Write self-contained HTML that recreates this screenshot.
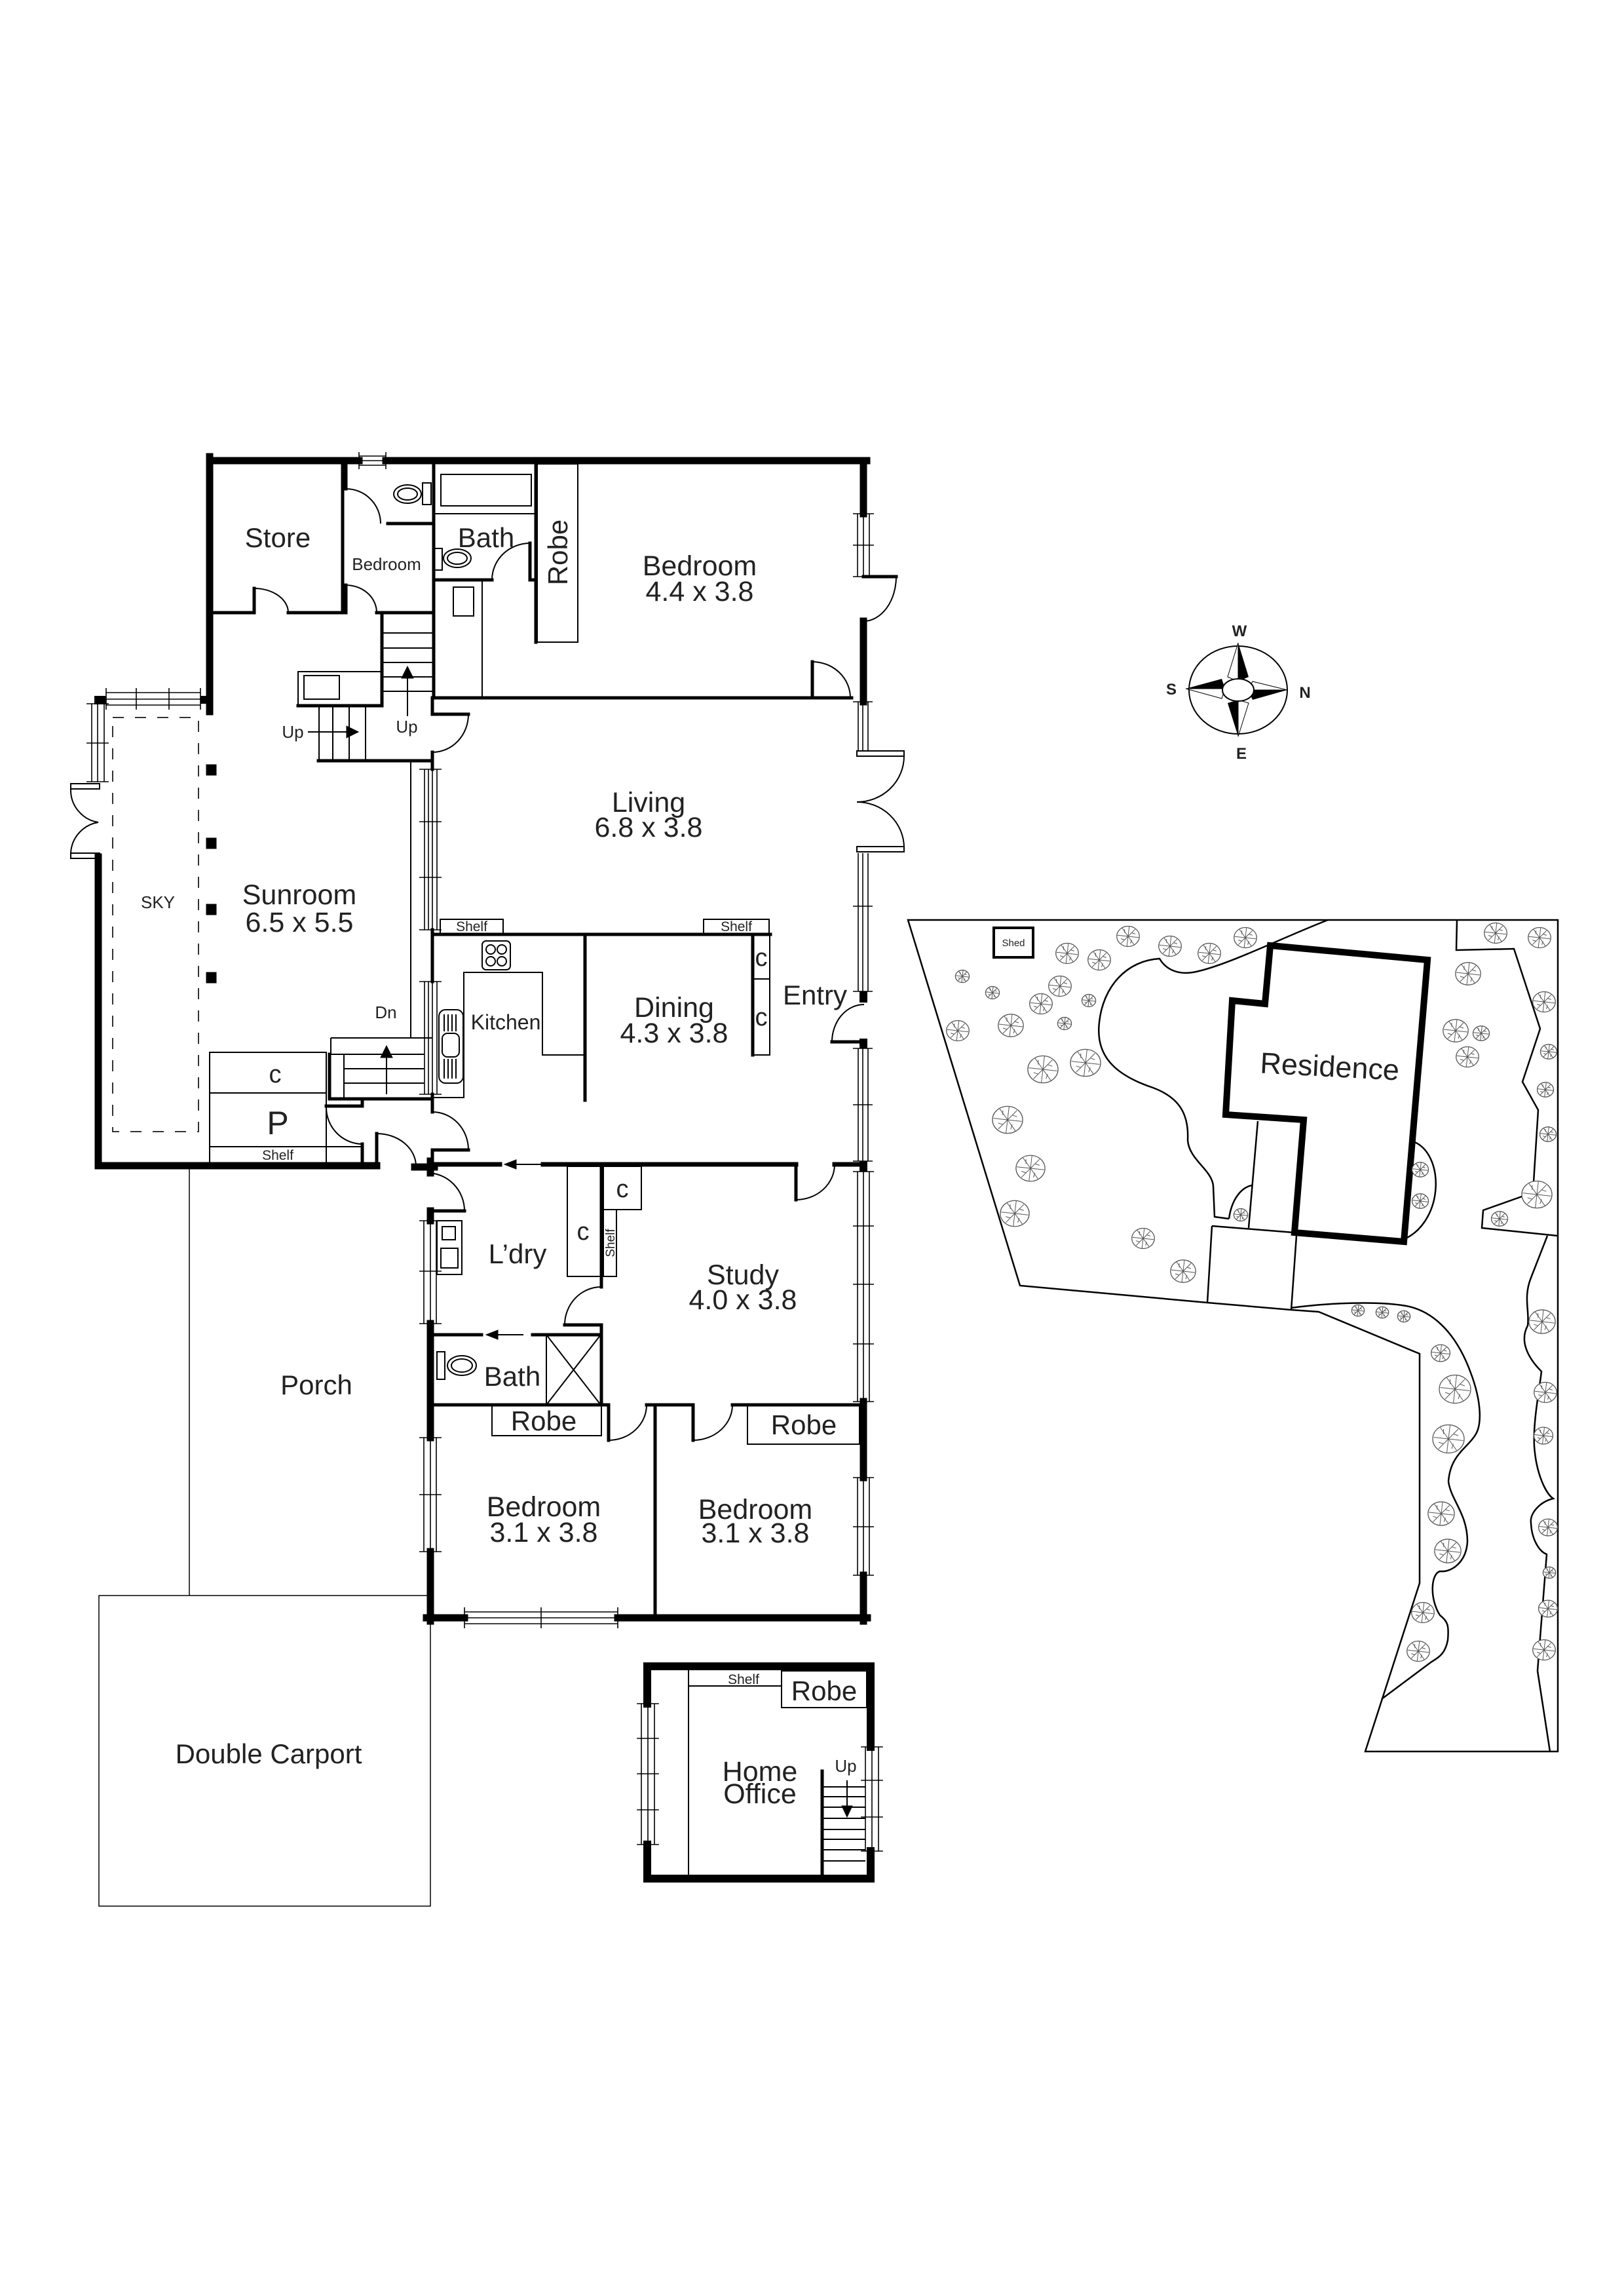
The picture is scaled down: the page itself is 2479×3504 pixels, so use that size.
<!DOCTYPE html>
<html><head><meta charset="utf-8"><style>
html,body{margin:0;padding:0;background:#fff}
svg{display:block}
text{font-family:"Liberation Sans",Arial,sans-serif;fill:#222}
</style></head><body>
<svg width="2479" height="3504" viewBox="0 0 2479 3504" xmlns="http://www.w3.org/2000/svg">
<defs>
<symbol id="t" viewBox="-10 -10 20 20" overflow="visible">
<ellipse cx="0" cy="0" rx="9.6" ry="8.6" fill="#fff" stroke="#555" stroke-width="1.3" vector-effect="non-scaling-stroke"/>
<path d="M0 0L9 1M0 0L6 -6M0 0L1 -8.5M0 0L-5 -7M0 0L-9 -1M0 0L-6 6M0 0L-1 8.5M0 0L5 7M3 -3L6 -2M-3 3L-6 2M-3 -3L-3 -6M3 3L2 6" stroke="#555" stroke-width="1" fill="none" vector-effect="non-scaling-stroke"/>
</symbol>
</defs>
<rect width="2479" height="3504" fill="#fff"/>

<g fill="none" stroke="#000" stroke-linecap="square">
<g stroke-width="11">
<path d="M320,703 H548 M589,703 H1323"/>
<path d="M1318,703 V784 M1318,948 V1071"/>
<path d="M320,697 V1086"/>
<path d="M150,1308 V1779 H575"/>
<path d="M633,1781 H663"/>
<path d="M657,1772 V1790 M657,1848 V1863 M657,2020 V2194 M657,2368 V2474 M651,2469 H709 M943,2469 H1324 M1318,2139 V2255 M1318,2404 V2474"/>
</g>
<rect x="306" y="1062" width="17" height="12" fill="#000" stroke="none"/>
<rect x="144" y="1062" width="18" height="13" fill="#000" stroke="none"/>
<rect x="1312" y="1513" width="12" height="17" fill="#000" stroke="none"/>
<rect x="1312" y="1585" width="12" height="15" fill="#000" stroke="none"/>
<rect x="1312" y="1772" width="12" height="16" fill="#000" stroke="none"/>
<path d="M660,1777 H763 M829,1777 H1215 M1274,1777 H1318" stroke-width="7"/>

<g stroke-width="5">
<path d="M523,703 V935 M320,935 H388 V898 M440,935 H528 V893 M575,935 H660"/>
<path d="M528,703 V746 M592,799 H662"/>
<path d="M662,703 V1065"/>
<path d="M818,708 V980"/>
<path d="M809,829 V885 H818 M662,885 H751"/>
<path d="M662,1065 H1240 V1010"/>
<path d="M1318,880 H1368"/>
<path d="M583,935 V1077 M455,1077 H583"/>
<path d="M660,1065 V1090 H715 M660,1148 V1174 M660,1419 V1498 M660,1670 V1697"/>
<path d="M660,1426 H1176 M893,1426 V1679"/>
<path d="M486,1161 H660"/>
<path d="M503,1609 V1677 H660"/>
<path d="M498,1688 H553 V1677 M553,1746 V1779 M575,1730 V1779"/>
<path d="M715,1755 H660 V1779"/>
<path d="M657,1848 H709"/>
<path d="M918,1777 V1964 M862,2022 H918 V2144"/>
<path d="M657,2037 H735 M813,2037 H918"/>
<path d="M657,2144 H929 V2198 M987,2144 H1058 V2198 M1118,2144 H1318"/>
<path d="M1000,2144 V2469"/>
<path d="M1215,1777 V1831"/>
<path d="M1240,1065 H1300"/>
<path d="M1270,1590 H1318"/>
<path d="M1149,1426 V1610"/>
</g>

<g stroke-width="2" stroke-linecap="butt">
<rect x="673" y="724" width="138" height="48"/>
<path d="M662,784 H818"/>
<rect x="820" y="708" width="62" height="272"/>
<rect x="692" y="896" width="31" height="44"/>
<path d="M736,885 V1065"/>
<rect x="663" y="837" width="12" height="33"/>
<ellipse cx="698" cy="852" rx="21" ry="14"/><ellipse cx="698" cy="852" rx="15" ry="9"/>
<rect x="645" y="737" width="13" height="33"/>
<ellipse cx="622" cy="754" rx="21" ry="14"/><ellipse cx="622" cy="754" rx="15" ry="9"/>
<path d="M388,898 A52,37 0 0 1 440,935"/>
<path d="M528,893 A47,42 0 0 1 575,935"/>
<path d="M528,746 A53,53 0 0 1 581,799"/>
<path d="M809,829 A58,56 0 0 0 751,885"/>
<path d="M1240,1010 A58,55 0 0 1 1298,1065"/>
<path d="M1368,880 A50,68 0 0 1 1318,948"/>
<path d="M715,1090 A55,58 0 0 1 660,1148"/>
<path d="M660,1697 A55,58 0 0 1 715,1755"/>
<path d="M498,1690 A56,56 0 0 0 553,1746"/>
<path d="M575,1730 A60,50 0 0 1 635,1780"/>
<path d="M652,1790 A57,58 0 0 1 709,1848"/>
<path d="M918,1964 A56,58 0 0 0 862,2022"/>
<path d="M929,2198 A58,54 0 0 0 987,2144"/>
<path d="M1058,2198 A60,54 0 0 0 1118,2144"/>
<path d="M1215,1831 A59,54 0 0 0 1274,1777"/>
<path d="M1270,1590 A49,57 0 0 1 1319,1533"/>
<rect x="1308" y="1146" width="72" height="8"/>
<rect x="1308" y="1292" width="72" height="8"/>
<path d="M1380,1154 A72,70 0 0 1 1308,1224 A72,70 0 0 1 1380,1292"/>
<rect x="108" y="1196" width="44" height="8"/>
<rect x="108" y="1302" width="44" height="8"/>
<path d="M108,1204 A50,50 0 0 0 150,1255 A50,50 0 0 0 108,1302"/>
<path d="M583,966 H660 M583,989 H660 M583,1011 H660 M583,1033 H660 M583,1055 H660"/>
<rect x="455" y="1025" width="128" height="52"/>
<rect x="464" y="1031" width="54" height="36"/>
<path d="M487,1077 V1161 M508,1077 V1161 M533,1077 V1161 M558,1077 V1161"/>
<path d="M622,1093 V1030 M470,1117 H530"/>
<path d="M627,1161 V1584"/>
<path d="M505,1584 H660 M505,1584 V1609 H647 M525,1609 V1677 M525,1631 H647 M525,1653 H647 M590,1670 V1600"/>
<rect x="320" y="1606" width="178" height="173"/>
<path d="M320,1668 H498 M320,1750 H553"/>
<rect x="672" y="1403" width="96" height="22"/>
<rect x="1074" y="1403" width="100" height="22"/>
<rect x="736" y="1436" width="43" height="44" rx="6"/>
<circle cx="749" cy="1449" r="7"/><circle cx="766" cy="1449" r="7"/><circle cx="749" cy="1467" r="7"/><circle cx="766" cy="1467" r="7"/>
<path d="M660,1675 H708 V1484 H828 V1610 H893"/>
<rect x="670" y="1541" width="37" height="112" rx="10"/>
<rect x="675" y="1577" width="26" height="36" rx="8"/>
<path d="M678,1548 V1574 M684,1548 V1574 M690,1548 V1574 M696,1548 V1574 M678,1616 V1646 M684,1616 V1646 M690,1616 V1646 M696,1616 V1646"/>
<rect x="1149" y="1426" width="26" height="68"/>
<rect x="1149" y="1494" width="26" height="116"/>
<rect x="667" y="1863" width="38" height="82"/>
<rect x="675" y="1872" width="20" height="20"/><rect x="673" y="1905" width="26" height="30"/>
<rect x="866" y="1780" width="51" height="168"/>
<rect x="921" y="1780" width="58" height="66"/>
<rect x="921" y="1846" width="20" height="102"/>
<rect x="834" y="2037" width="83" height="107"/>
<path d="M834,2037 L917,2144 M917,2037 L834,2144"/>
<rect x="667" y="2063" width="12" height="42"/>
<ellipse cx="705" cy="2084" rx="22" ry="15"/><ellipse cx="705" cy="2084" rx="16" ry="10"/>
<rect x="751" y="2144" width="167" height="47"/>
<rect x="1141" y="2144" width="171" height="60"/>
<path d="M289,1779 V2435" stroke-width="1.5"/>
<rect x="151" y="2435" width="506" height="474" stroke-width="1.5"/>
<rect x="172" y="1095" width="131" height="632" stroke="#333" stroke-dasharray="17,17"/>
</g>

<g stroke-width="1.6" stroke-linecap="butt">
<path d="M548,696 H589 M548,703 H589 M548,710 H589 M548,690 V716 M589,690 V716"/>
<path d="M1309,784 V880 M1318,784 V880 M1327,784 V880 M1302,784 H1334 M1302,880 H1334 M1302,832 H1334"/>
<path d="M162,1057 H306 M162,1067 H306 M162,1076 H306 M162,1050 V1083 M208,1050 V1083 M258,1050 V1083 M306,1050 V1083"/>
<path d="M140,1074 V1193 M149,1074 V1193 M159,1074 V1193 M132,1074 H166 M132,1134 H166 M132,1193 H166"/>
<path d="M1310,1071 V1146 M1317,1071 V1146 M1325,1071 V1146 M1302,1071 H1332"/>
<path d="M1310,1302 V1513 M1317,1302 V1513 M1325,1302 V1513 M1302,1383 H1332 M1302,1513 H1332"/>
<path d="M1310,1600 V1772 M1317,1600 V1772 M1325,1600 V1772 M1302,1600 H1332 M1302,1686 H1332 M1302,1772 H1332"/>
<path d="M1309,1788 V2139 M1318,1788 V2139 M1327,1788 V2139 M1302,1788 H1334 M1302,1871 H1334 M1302,1960 H1334 M1302,2051 H1334 M1302,2139 H1334"/>
<path d="M1309,2255 V2404 M1318,2255 V2404 M1327,2255 V2404 M1302,2255 H1334 M1302,2330 H1334 M1302,2404 H1334"/>
<path d="M647,1863 V2020 M657,1863 V2020 M666,1863 V2020 M640,1863 H674 M640,1940 H674 M640,2020 H674"/>
<path d="M647,2194 V2368 M657,2194 V2368 M666,2194 V2368 M640,2194 H674 M640,2281 H674 M640,2368 H674"/>
<path d="M709,2460 H943 M709,2469 H943 M709,2478 H943 M709,2453 V2485 M826,2453 V2485 M943,2453 V2485"/>
<path d="M648,1174 V1419 M654,1174 V1419 M660,1174 V1419 M667,1174 V1419 M640,1174 H674 M640,1254 H674 M640,1339 H674 M640,1419 H674"/>
<path d="M648,1498 V1670 M654,1498 V1670 M660,1498 V1670 M667,1498 V1670 M640,1498 H674 M640,1670 H674"/>
</g>

<g fill="#000">
<rect x="315" y="1167" width="15" height="16"/><rect x="315" y="1279" width="15" height="16"/>
<rect x="315" y="1380" width="15" height="16"/><rect x="315" y="1484" width="15" height="16"/>
</g>

<g fill="#000">
<polygon points="622,1017 613,1035 631,1035"/>
<polygon points="547,1117 529,1108 529,1126"/>
<polygon points="590,1596 581,1614 599,1614"/>
<polygon points="770,1777 788,1770 788,1784"/>
<polygon points="742,2037 760,2030 760,2044"/>
<polygon points="1293,2773 1285,2756 1301,2756"/>
</g>
<path d="M788,1777 H826 M760,2037 H798 M1293,2718 V2758" stroke="#000" stroke-width="2"/>

<g fill="none" stroke="#000">
<path d="M988,2600 V2543 H1329 V2666 M1329,2825 V2867 H988 V2815" stroke-width="12"/>
<g stroke-width="2">
<path d="M1051,2550 V2861 M1051,2573 H1193"/>
<rect x="1193" y="2550" width="130" height="56"/>
<path d="M1257,2727 H1320 M1257,2742 H1320 M1257,2758 H1320 M1257,2775 H1320 M1257,2792 H1320 M1257,2807 H1320 M1257,2823 H1320 M1257,2840 H1320"/>
</g>
<path d="M1255,2703 V2861" stroke-width="5"/>
<g stroke-width="1.6">
<path d="M979,2600 V2815 M989,2600 V2815 M999,2600 V2815 M973,2600 H1005 M973,2653 H1005 M973,2707 H1005 M973,2762 H1005 M973,2815 H1005"/>
<path d="M1321,2666 V2825 M1331,2666 V2825 M1341,2666 V2825 M1315,2666 H1347 M1315,2717 H1347 M1315,2773 H1347 M1315,2825 H1347"/>
</g>
</g>
</g>

<g text-anchor="middle">
<text x="424" y="835" font-size="42">Store</text>
<text x="590" y="870" font-size="26">Bedroom</text>
<text x="742" y="835" font-size="42">Bath</text>
<text transform="translate(866,843) rotate(-90)" font-size="42">Robe</text>
<text x="1068" y="878" font-size="43">Bedroom</text>
<text x="1068" y="917" font-size="43">4.4 x 3.8</text>
<text x="447" y="1126" font-size="26">Up</text>
<text x="621" y="1118" font-size="26">Up</text>
<text x="241" y="1386" font-size="26">SKY</text>
<text x="457" y="1380" font-size="43">Sunroom</text>
<text x="457" y="1422" font-size="43">6.5 x 5.5</text>
<text x="990" y="1239" font-size="43">Living</text>
<text x="990" y="1277" font-size="43">6.8 x 3.8</text>
<text x="720" y="1421" font-size="21">Shelf</text>
<text x="1124" y="1421" font-size="21">Shelf</text>
<text x="1162" y="1474" font-size="38">c</text>
<text x="1162" y="1565" font-size="38">c</text>
<text x="1244" y="1533" font-size="42">Entry</text>
<text x="1029" y="1552" font-size="43">Dining</text>
<text x="1029" y="1591" font-size="43">4.3 x 3.8</text>
<text x="772" y="1571" font-size="32">Kitchen</text>
<text x="589" y="1554" font-size="26">Dn</text>
<text x="420" y="1652" font-size="38">c</text>
<text x="424" y="1731" font-size="50">P</text>
<text x="424" y="1770" font-size="21">Shelf</text>
<text x="790" y="1928" font-size="42">L’dry</text>
<text x="890" y="1892" font-size="38">c</text>
<text x="950" y="1827" font-size="38">c</text>
<text transform="translate(938,1897) rotate(-90)" font-size="19">Shelf</text>
<text x="1134" y="1960" font-size="43">Study</text>
<text x="1134" y="1998" font-size="43">4.0 x 3.8</text>
<text x="782" y="2115" font-size="42">Bath</text>
<text x="830" y="2183" font-size="42">Robe</text>
<text x="1227" y="2189" font-size="42">Robe</text>
<text x="830" y="2314" font-size="43">Bedroom</text>
<text x="830" y="2353" font-size="43">3.1 x 3.8</text>
<text x="1153" y="2318" font-size="43">Bedroom</text>
<text x="1153" y="2354" font-size="43">3.1 x 3.8</text>
<text x="483" y="2128" font-size="42">Porch</text>
<text x="410" y="2691" font-size="42">Double Carport</text>
<text x="1135" y="2570" font-size="21">Shelf</text>
<text x="1258" y="2595" font-size="42">Robe</text>
<text x="1160" y="2718" font-size="43">Home</text>
<text x="1160" y="2752" font-size="43">Office</text>
<text x="1291" y="2704" font-size="26">Up</text>
</g>

<g>
<ellipse cx="1890" cy="1053" rx="75" ry="67" fill="none" stroke="#000" stroke-width="2"/>
<g stroke="#000" stroke-width="1" fill="#fff">
<polygon points="1890,981 1874,1033 1890,1040"/>
<polygon points="1965,1053 1912,1040 1905,1053"/>
<polygon points="1810,1051 1865,1066 1870,1051"/>
<polygon points="1890,1124 1906,1073 1890,1068"/>
</g>
<g fill="#000">
<polygon points="1890,981 1906,1033 1890,1040"/>
<polygon points="1965,1053 1912,1068 1905,1053"/>
<polygon points="1810,1051 1865,1036 1870,1051"/>
<polygon points="1890,1124 1874,1073 1890,1068"/>
</g>
<ellipse cx="1890" cy="1053" rx="24" ry="17" fill="#fff" stroke="#000" stroke-width="2"/>
<g font-weight="bold" font-size="24" text-anchor="middle">
<text x="1892" y="971">W</text>
<text x="1788" y="1060">S</text>
<text x="1992" y="1065">N</text>
<text x="1895" y="1158">E</text>
</g>
</g>

<g fill="none" stroke="#000" stroke-width="2.5">
<path d="M1386,1404 H2378 V2673 H2084 L2167,2416 V2066 L2013,2002 L1971,1999 L1843,1988 L1557,1962 Z"/>
<path d="M2224,1404 L2223,1450 L2311,1448 L2351,1570 L2324,1651 L2348,1694 L2340,1820 L2264,1847 L2262,1874 L2378,1886"/>
<path d="M2027,1404 C1960,1430 1880,1470 1830,1482 C1800,1490 1780,1480 1770,1463 C1720,1466 1684,1505 1678,1560 C1672,1610 1700,1640 1760,1660 C1800,1675 1815,1700 1813,1740 C1815,1770 1850,1785 1852,1810 L1854,1857 L1876,1860"/>
<path d="M1876,1860 C1880,1830 1895,1812 1911,1809"/>
<path d="M1920,1711 L1906,1874 M1850,1871 L1975,1881 M1850,1871 L1843,1988 M1979,1886 L1971,1999"/>
<path d="M2157,1742 C2205,1760 2205,1860 2146,1890"/>
<path d="M1971,1996 C2030,1988 2100,1986 2140,1992 C2190,1998 2225,2040 2245,2095 C2262,2140 2262,2175 2252,2190 C2240,2210 2214,2220 2211,2261 C2215,2290 2240,2310 2240,2353 C2238,2385 2215,2400 2198,2398 C2184,2402 2182,2440 2198,2465 C2210,2475 2212,2480 2210,2503 C2206,2525 2195,2530 2184,2537 L2109,2593"/>
<path d="M2362,1886 L2337,1950 C2325,1980 2335,2000 2332,2023 C2320,2045 2330,2070 2353,2093 C2350,2120 2340,2170 2342,2207 C2345,2250 2360,2280 2371,2287 C2350,2292 2335,2310 2337,2324 C2338,2350 2350,2368 2361,2372 L2347,2550 L2366,2673"/>
</g>
<path d="M1939,1443 L2179,1465 L2143,1895 L1976,1881 L1990,1709 L1871,1701 L1881,1527 L1931,1532 Z" fill="none" stroke="#000" stroke-width="10"/>
<text transform="translate(2029,1643) rotate(3)" text-anchor="middle" font-size="45">Residence</text>
<rect x="1517" y="1416" width="60" height="45" fill="none" stroke="#000" stroke-width="4"/>
<text x="1547" y="1444" text-anchor="middle" font-size="15">Shed</text>

<g>
<use href="#t" x="1704" y="1411" width="36" height="36"/>
<use href="#t" x="1768" y="1426" width="36" height="36"/>
<use href="#t" x="1828" y="1437" width="36" height="36"/>
<use href="#t" x="1883" y="1413" width="36" height="36"/>
<use href="#t" x="1611" y="1437" width="36" height="36"/>
<use href="#t" x="1660" y="1447" width="36" height="36"/>
<use href="#t" x="1458" y="1479" width="22" height="22"/>
<use href="#t" x="1504" y="1504" width="22" height="22"/>
<use href="#t" x="1600" y="1487" width="36" height="36"/>
<use href="#t" x="1651" y="1516" width="22" height="22"/>
<use href="#t" x="1571" y="1514" width="36" height="36"/>
<use href="#t" x="1614" y="1551" width="22" height="22"/>
<use href="#t" x="1444" y="1555" width="36" height="36"/>
<use href="#t" x="1523" y="1545" width="40" height="40"/>
<use href="#t" x="2265" y="1406" width="36" height="36"/>
<use href="#t" x="2332" y="1413" width="36" height="36"/>
<use href="#t" x="2221" y="1466" width="40" height="40"/>
<use href="#t" x="2339" y="1511" width="36" height="36"/>
<use href="#t" x="2202" y="1553" width="40" height="40"/>
<use href="#t" x="2248" y="1564" width="26" height="26"/>
<use href="#t" x="2222" y="1595" width="36" height="36"/>
<use href="#t" x="2351" y="1592" width="26" height="26"/>
<use href="#t" x="2346" y="1650" width="26" height="26"/>
<use href="#t" x="2350" y="1718" width="26" height="26"/>
<use href="#t" x="1568" y="1608" width="48" height="48"/>
<use href="#t" x="1633" y="1598" width="48" height="48"/>
<use href="#t" x="1514" y="1685" width="48" height="48"/>
<use href="#t" x="1550" y="1760" width="46" height="46"/>
<use href="#t" x="1526" y="1829" width="46" height="46"/>
<use href="#t" x="2155" y="1772" width="26" height="26"/>
<use href="#t" x="2155" y="1820" width="26" height="26"/>
<use href="#t" x="2322" y="1799" width="48" height="48"/>
<use href="#t" x="2276" y="1847" width="26" height="26"/>
<use href="#t" x="1883" y="1843" width="22" height="22"/>
<use href="#t" x="1727" y="1872" width="36" height="36"/>
<use href="#t" x="1786" y="1920" width="40" height="40"/>
<use href="#t" x="2063" y="1990" width="20" height="20"/>
<use href="#t" x="2100" y="1993" width="20" height="20"/>
<use href="#t" x="2133" y="1999" width="20" height="20"/>
<use href="#t" x="2184" y="2050" width="30" height="30"/>
<use href="#t" x="2196" y="2095" width="50" height="50"/>
<use href="#t" x="2186" y="2171" width="50" height="50"/>
<use href="#t" x="2333" y="1996" width="42" height="42"/>
<use href="#t" x="2341" y="2107" width="36" height="36"/>
<use href="#t" x="2341" y="2176" width="30" height="30"/>
<use href="#t" x="2179" y="2289" width="42" height="42"/>
<use href="#t" x="2189" y="2346" width="42" height="42"/>
<use href="#t" x="2348" y="2316" width="30" height="30"/>
<use href="#t" x="2355" y="2390" width="20" height="20"/>
<use href="#t" x="2348" y="2440" width="30" height="30"/>
<use href="#t" x="2339" y="2500" width="36" height="36"/>
<use href="#t" x="2154" y="2443" width="36" height="36"/>
<use href="#t" x="2147" y="2502" width="36" height="36"/>
</g>
</svg>
</body></html>
